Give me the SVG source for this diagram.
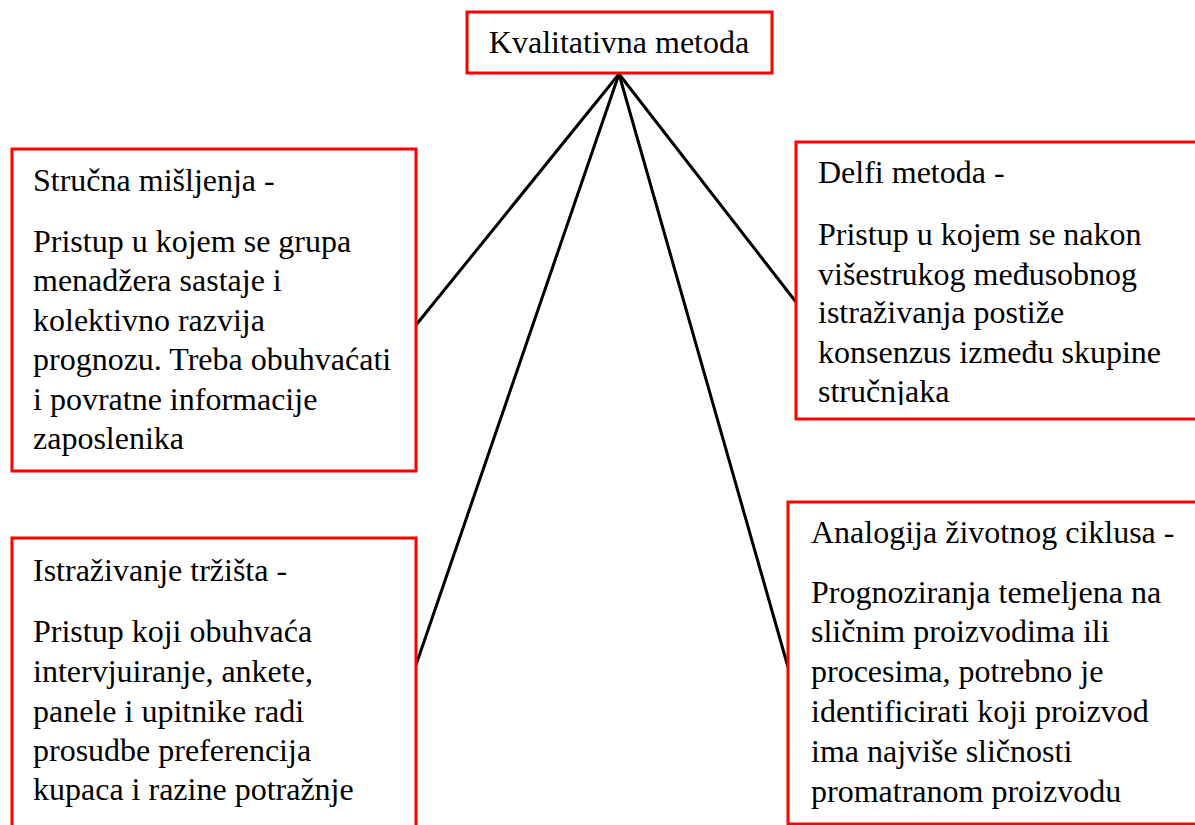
<svg xmlns="http://www.w3.org/2000/svg" width="1195" height="825" viewBox="0 0 1195 825">
<style>
.box{fill:#fff;stroke:#ff0000;stroke-width:3}
.t{font-family:"Liberation Serif","Times New Roman",serif;font-size:32px;fill:#000}
.c{stroke:#000;stroke-width:3;fill:none;stroke-linecap:round}
</style>
<defs>
<clipPath id="clipD"><rect x="796" y="142" width="400" height="263"/></clipPath>
</defs>
<rect width="1195" height="825" fill="#fff"/>
<g id="connectors">
<line class="c" x1="619" y1="74" x2="416" y2="325"/>
<line class="c" x1="619" y1="74" x2="416" y2="665"/>
<line class="c" x1="619" y1="74" x2="796" y2="302"/>
<line class="c" x1="619" y1="74" x2="788" y2="667"/>
</g>
<g id="root">
<rect class="box" x="467" y="12" width="305" height="61"/>
<text class="t" x="619" y="53" text-anchor="middle">Kvalitativna metoda</text>
</g>
<g id="strucna">
<rect class="box" x="12" y="149" width="404" height="322"/>
<text class="t" x="33" y="191">Stručna mišljenja -</text>
<text class="t" x="33" y="252">Pristup u kojem se grupa</text>
<text class="t" x="33" y="291">menadžera sastaje i</text>
<text class="t" x="33" y="331">kolektivno razvija</text>
<text class="t" x="33" y="370">prognozu. Treba obuhvaćati</text>
<text class="t" x="33" y="410">i povratne informacije</text>
<text class="t" x="33" y="449">zaposlenika</text>
</g>
<g id="istrazivanje">
<rect class="box" x="12" y="538" width="404" height="300"/>
<text class="t" x="33" y="581">Istraživanje tržišta -</text>
<text class="t" x="33" y="642">Pristup koji obuhvaća</text>
<text class="t" x="33" y="682">intervjuiranje, ankete,</text>
<text class="t" x="33" y="722">panele i upitnike radi</text>
<text class="t" x="33" y="761">prosudbe preferencija</text>
<text class="t" x="33" y="800">kupaca i razine potražnje</text>
</g>
<g id="delfi">
<rect class="box" x="796" y="142" width="410" height="277"/>
<g clip-path="url(#clipD)">
<text class="t" x="818" y="183">Delfi metoda -</text>
<text class="t" x="818" y="245">Pristup u kojem se nakon</text>
<text class="t" x="818" y="285">višestrukog međusobnog</text>
<text class="t" x="818" y="323">istraživanja postiže</text>
<text class="t" x="818" y="363">konsenzus između skupine</text>
<text class="t" x="818" y="402">stručnjaka</text>
</g>
</g>
<g id="analogija">
<rect class="box" x="788" y="502" width="420" height="322" style="stroke-width:3"/>
<text class="t" x="811" y="543">Analogija životnog ciklusa -</text>
<text class="t" x="811" y="603">Prognoziranja temeljena na</text>
<text class="t" x="811" y="642">sličnim proizvodima ili</text>
<text class="t" x="811" y="682">procesima, potrebno je</text>
<text class="t" x="811" y="722">identificirati koji proizvod</text>
<text class="t" x="811" y="762">ima najviše sličnosti</text>
<text class="t" x="811" y="802">promatranom proizvodu</text>
</g>
</svg>
